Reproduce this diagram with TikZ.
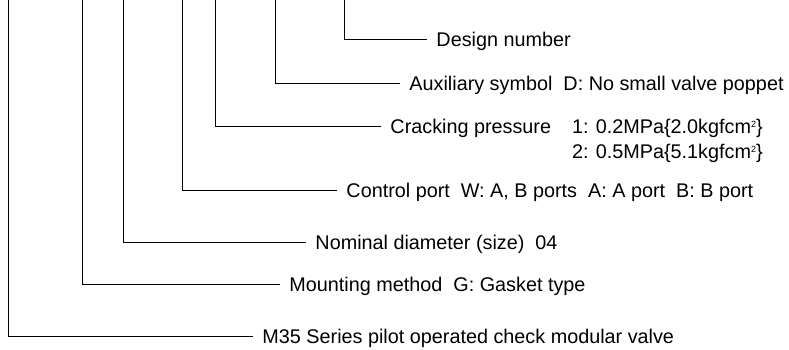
\documentclass[tikz,border=0pt]{standalone}
\usepackage{fontspec}
\setmainfont{Liberation Sans}
\usetikzlibrary{positioning}
\newcommand{\sqsup}{\raisebox{0.55ex}{\fontsize{9}{9}\selectfont 2}}

\begin{document}
\begin{tikzpicture}[x=1pt, y=-1pt, line width=0.9pt,
    etiqueta/.style={anchor=west, inner xsep=9pt, inner ysep=1pt, text height=14pt, text depth=0pt, font=\fontsize{19.8}{24}\selectfont}]
				\useasboundingbox (0,0) rectangle (789,349);
				% puntos superiores
				\coordinate (s1) at (8,0);
				\coordinate (s2) at (82,0);
				\coordinate (s3) at (123,0);
				\coordinate (s4) at (182,0);
				\coordinate (s5) at (215,0);
				\coordinate (s6) at (275,0);
				\coordinate (s7) at (344,0);
				
				% textos
				\node [etiqueta] (ser) at (253,336) {M35 Series pilot operated check modular valve};
				\node [etiqueta] (mnt) at (280,284) {Mounting method\ \ G: Gasket type};
				\node [etiqueta] (nom) at (306,242) {Nominal diameter (size)\ \ 04};
				\node [etiqueta] (ctl) at (337,190) {Control port\ \ W: A, B ports\ \ A: A port\ \ B: B port};
				\node [etiqueta] (crk) at (381,126) {Cracking pressure};
				\node [etiqueta, inner xsep=0pt] (crk1) [base right=11pt of crk] {1: 0.2MPa\{2.0kgfcm\sqsup\}};
				\node [etiqueta, inner xsep=0pt, anchor=base west] (crk2) at ([yshift=-25pt]crk1.base west) {2: 0.5MPa\{5.1kgfcm\sqsup\}};
				\node [etiqueta] (aux) at (400,83) {Auxiliary symbol\ \ D: No small valve poppet};
				\node [etiqueta] (dsg) at (427,39) {Design number};
				
				% lineas
				\draw
				(s1) |- (ser.west)
				(s2) |- (mnt.west)
				(s3) |- (nom.west)
				(s4) |- (ctl.west)
				(s5) |- (crk.west)
				(s6) |- (aux.west)
				(s7) |- (dsg.west);
				\end{tikzpicture}
\end{document}
